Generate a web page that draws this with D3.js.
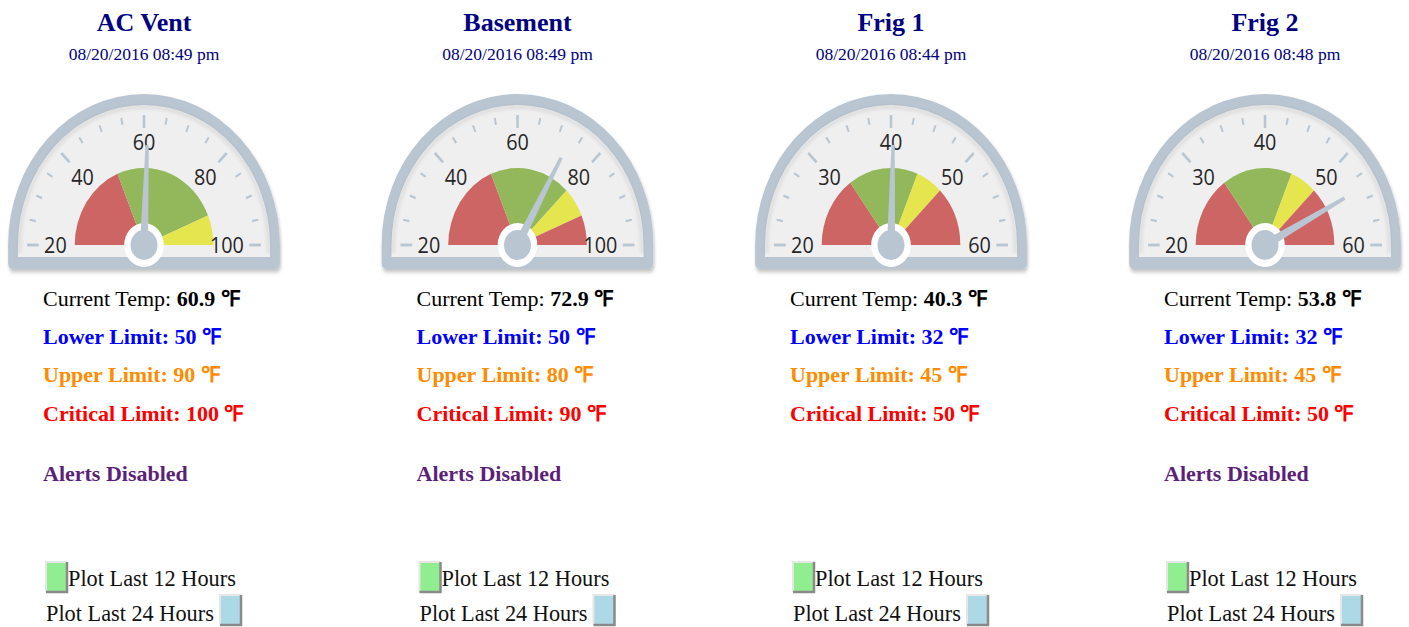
<!DOCTYPE html>
<html>
<head>
<meta charset="utf-8">
<script src="https://cdn.jsdelivr.net/npm/d3@7"></script>
<style>
  body { margin: 0; background: #fff; }
  svg { display: block; }
</style>
</head>
<body>
<svg id="chart" width="1409" height="627"></svg>
<script>
// sensor data
const names = ["AC Vent", "Basement", "Frig 1", "Frig 2"];
const stamps = ["08/20/2016 08:49 pm", "08/20/2016 08:49 pm", "08/20/2016 08:44 pm", "08/20/2016 08:48 pm"];
const temps = [60.9, 72.9, 40.3, 53.8];
const scaleMins = [20, 20, 20, 20];
const scaleMaxs = [100, 100, 60, 60];
const majorTicks = [
    [20, 40, 60, 80, 100],
    [20, 40, 60, 80, 100],
    [20, 30, 40, 50, 60],
    [20, 30, 40, 50, 60]
];
const lowerLimits = [50, 50, 32, 32];
const upperLimits = [90, 80, 45, 45];
const criticalLimits = [100, 90, 50, 50];
const alertsOff = [true, true, false, true];

const svg = d3.select('#chart');
const colX = [144, 517.5, 891, 1265];
const gaugeY = 245;
const sx = 0.9; // gauge is drawn a bit squeezed
const rimColor = '#b9c6d2';
const serif = '"Liberation Serif", "Times New Roman", serif';

// drop shadow for the gauge frame
const defs = svg.append('defs');
defs.append('filter')
    .attr('id', 'shadow')
    .attr('x', '-10%').attr('y', '-10%')
    .attr('width', '120%').attr('height', '130%')
    .append('feDropShadow')
    .attr('dx', 1).attr('dy', 3)
    .attr('stdDeviation', 2)
    .attr('flood-color', '#000')
    .attr('flood-opacity', 0.25);
defs.append('filter')
    .attr('id', 'blur')
    .append('feGaussianBlur')
    .attr('stdDeviation', 1.5);

names.forEach((name, i) => {
    const cx = colX[i];
    const col = svg.append('g').attr('transform', 'translate(' + cx + ',0)');

    // title + timestamp
    col.append('text')
        .attr('x', 0).attr('y', 31)
        .attr('text-anchor', 'middle')
        .attr('font-family', serif)
        .attr('font-size', 26)
        .attr('font-weight', 'bold')
        .attr('fill', '#000080')
        .text(name);
    col.append('text')
        .attr('x', 0).attr('y', 60)
        .attr('text-anchor', 'middle')
        .attr('font-family', serif)
        .attr('font-size', 17.5)
        .attr('fill', '#000080')
        .text(stamps[i]);

    // gauge
    const g = col.append('g')
        .attr('transform', 'translate(0,' + gaugeY + ') scale(' + sx + ',1)');

    const R = 151, Ri = 140;
    g.append('path')
        .attr('d', `M${-R},0 A${R},${R} 0 0 1 ${R},0 L${R},18 Q${R},24 ${R - 6},24 L${-R + 6},24 Q${-R},24 ${-R},18 Z`)
        .attr('fill', rimColor)
        .attr('filter', 'url(#shadow)');
    g.append('path')
        .attr('d', `M${-Ri},0 A${Ri},${Ri} 0 0 1 ${Ri},0 L${Ri},12 L${-Ri},12 Z`)
        .attr('fill', '#efefef');
    // soft inner shade under the rim
    g.append('path')
        .attr('d', `M${-Ri + 2},8 L${-Ri + 2},0 A${Ri - 2},${Ri - 2} 0 0 1 ${Ri - 2},0 L${Ri - 2},8`)
        .attr('fill', 'none')
        .attr('stroke', 'rgba(0,0,0,0.07)')
        .attr('stroke-width', 4)
        .attr('filter', 'url(#blur)');

    const vmin = scaleMins[i], vmax = scaleMaxs[i];
    const ang = d3.scaleLinear().domain([vmin, vmax]).range([-Math.PI / 2, Math.PI / 2]);

    // colour bands
    const bands = [
        { from: vmin, to: lowerLimits[i], color: '#cd6565' },
        { from: lowerLimits[i], to: upperLimits[i], color: '#93b85b' },
        { from: upperLimits[i], to: criticalLimits[i], color: '#e5e54e' },
        { from: criticalLimits[i], to: vmax, color: '#cd6565' }
    ].filter(b => b.to > b.from);
    const arc = d3.arc().innerRadius(0).outerRadius(77);
    g.selectAll('path.band')
        .data(bands)
        .enter().append('path')
        .attr('class', 'band')
        .attr('d', b => arc({ startAngle: ang(b.from), endAngle: ang(b.to) }))
        .attr('fill', b => b.color);

    // ticks
    const major = majorTicks[i];
    const minorStep = (major[1] - major[0]) / 4;
    const minor = d3.range(vmin, vmax + minorStep / 2, minorStep).filter(v => major.indexOf(v) < 0);
    const tickLine = (sel, r0, r1, w) => sel
        .attr('x1', v => r0 * Math.sin(ang(v)))
        .attr('y1', v => -r0 * Math.cos(ang(v)))
        .attr('x2', v => r1 * Math.sin(ang(v)))
        .attr('y2', v => -r1 * Math.cos(ang(v)))
        .attr('stroke', rimColor)
        .attr('stroke-width', w);
    g.selectAll('line.minor').data(minor).enter().append('line')
        .attr('class', 'minor').call(tickLine, 122.5, 129.5, 2.2);
    g.selectAll('line.major').data(major).enter().append('line')
        .attr('class', 'major').call(tickLine, 117, 130, 2.8);

    // tick labels, kept just inside the tick ring
    g.selectAll('text.lab').data(major).enter().append('text')
        .attr('class', 'lab')
        .attr('font-family', '"Open Sans", "DejaVu Sans", sans-serif')
        .attr('font-size', 22)
        .attr('fill', '#262626')
        .attr('text-anchor', 'middle')
        .text(d => d)
        .each(function (v) {
            const a = ang(v);
            const hw = this.getComputedTextLength() / 2;
            const hh = 8;
            const r = 111 - (hw * Math.abs(Math.sin(a)) + hh * Math.abs(Math.cos(a)));
            d3.select(this)
                .attr('x', r * Math.sin(a))
                .attr('y', -r * Math.cos(a) + 8);
        });

    // hub + needle
    g.append('circle').attr('r', 22).attr('fill', '#fff');
    g.append('path')
        .attr('d', 'M-4.5,0 L-1.8,-100 L1.8,-100 L4.5,0 Z')
        .attr('fill', rimColor)
        .attr('transform', 'rotate(' + (ang(temps[i]) * 180 / Math.PI) + ')');
    g.append('circle').attr('r', 15).attr('fill', rimColor);

    // readings
    const tx = -101;
    const cur = col.append('text')
        .attr('x', tx).attr('y', 306)
        .attr('font-family', serif).attr('font-size', 22)
        .attr('fill', '#000');
    cur.append('tspan').text('Current Temp: ');
    cur.append('tspan').attr('font-weight', 'bold').text(temps[i] + ' \u2109');

    const lines = [
        { y: 344, color: '#0000ff', label: 'Lower Limit: ' + lowerLimits[i] + ' \u2109' },
        { y: 382, color: '#ff8c00', label: 'Upper Limit: ' + upperLimits[i] + ' \u2109' },
        { y: 421, color: '#ff0000', label: 'Critical Limit: ' + criticalLimits[i] + ' \u2109' }
    ];
    if (alertsOff[i]) lines.push({ y: 481, color: '#5c1f7a', label: 'Alerts Disabled' });
    col.selectAll('text.lim').data(lines).enter().append('text')
        .attr('class', 'lim')
        .attr('x', tx).attr('y', d => d.y)
        .attr('font-family', serif).attr('font-size', 22)
        .attr('font-weight', 'bold')
        .attr('fill', d => d.color)
        .text(d => d.label);

    // plot buttons
    const button = (x, y, color) => {
        const b = col.append('g').attr('transform', 'translate(' + x + ',' + y + ')');
        b.append('rect').attr('width', 21).attr('height', 30).attr('fill', color);
        b.append('path').attr('d', 'M0,30 L0,0 L21,0').attr('fill', 'none').attr('stroke', '#e6e6e6').attr('stroke-width', 2);
        b.append('path').attr('d', 'M21,0 L21,30 L0,30').attr('fill', 'none').attr('stroke', '#8a8a8a').attr('stroke-width', 2.5);
    };
    button(-98, 562, '#90ee90');
    col.append('text')
        .attr('x', -76).attr('y', 586)
        .attr('font-family', serif).attr('font-size', 22.3)
        .attr('fill', '#111')
        .text('Plot Last 12 Hours');
    col.append('text')
        .attr('x', -98).attr('y', 621)
        .attr('font-family', serif).attr('font-size', 22.3)
        .attr('fill', '#111')
        .text('Plot Last 24 Hours');
    button(76, 595, '#add8e6');
});
</script>
</body>
</html>
